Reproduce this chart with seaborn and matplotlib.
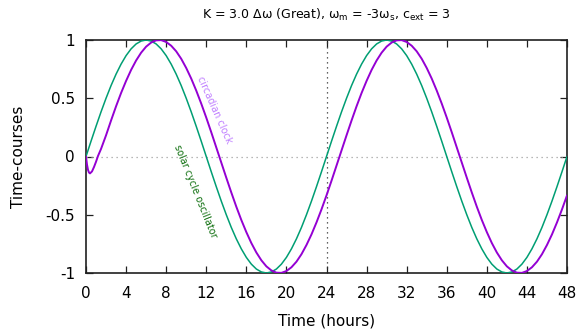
import numpy as np
import pandas as pd
import matplotlib
matplotlib.use("Agg")
import matplotlib.pyplot as plt
import seaborn as sns

# ---- data ----
solar_hours = np.arange(0, 48.01, 0.5)
solar_values = [
    0.000, 0.131, 0.259, 0.383, 0.500, 0.609, 0.707, 0.793, 0.866, 0.924, 0.966, 0.991, 1.000,
    0.991, 0.966, 0.924, 0.866, 0.793, 0.707, 0.609, 0.500, 0.383, 0.259, 0.131, 0.000,
    -0.131, -0.259, -0.383, -0.500, -0.609, -0.707, -0.793, -0.866, -0.924, -0.966, -0.991, -1.000,
    -0.991, -0.966, -0.924, -0.866, -0.793, -0.707, -0.609, -0.500, -0.383, -0.259, -0.131, 0.000,
    0.131, 0.259, 0.383, 0.500, 0.609, 0.707, 0.793, 0.866, 0.924, 0.966, 0.991, 1.000,
    0.991, 0.966, 0.924, 0.866, 0.793, 0.707, 0.609, 0.500, 0.383, 0.259, 0.131, 0.000,
    -0.131, -0.259, -0.383, -0.500, -0.609, -0.707, -0.793, -0.866, -0.924, -0.966, -0.991, -1.000,
    -0.991, -0.966, -0.924, -0.866, -0.793, -0.707, -0.609, -0.500, -0.383, -0.259, -0.131, 0.000,
]

clock_hours = np.concatenate([[0, 0.1, 0.2, 0.3, 0.4, 0.6, 0.8, 1.0, 1.2],
                              np.arange(1.5, 48.01, 0.5)])
clock_values = [
    0.000, -0.070, -0.115, -0.138, -0.145, -0.128, -0.090, -0.045, 0.005,
    0.065, 0.182, 0.309, 0.431, 0.545, 0.649, 0.743, 0.824, 0.891, 0.943, 0.978, 0.997,
    0.999, 0.983, 0.951, 0.903, 0.839, 0.760, 0.669, 0.566, 0.454, 0.334, 0.208, 0.078,
    -0.052, -0.182, -0.309, -0.431, -0.545, -0.649, -0.743, -0.824, -0.891, -0.943, -0.978, -0.997,
    -0.999, -0.983, -0.951, -0.903, -0.839, -0.760, -0.669, -0.566, -0.454, -0.334, -0.208, -0.078,
    0.052, 0.182, 0.309, 0.431, 0.545, 0.649, 0.743, 0.824, 0.891, 0.943, 0.978, 0.997,
    0.999, 0.983, 0.951, 0.903, 0.839, 0.760, 0.669, 0.566, 0.454, 0.334, 0.208, 0.078,
    -0.052, -0.182, -0.309, -0.431, -0.545, -0.649, -0.743, -0.824, -0.891, -0.943, -0.978, -0.997,
    -0.999, -0.983, -0.951, -0.903, -0.839, -0.760, -0.669, -0.566, -0.454, -0.334,
]

x_ticks = [0, 4, 8, 12, 16, 20, 24, 28, 32, 36, 40, 44, 48]
y_ticks = [-1, -0.5, 0, 0.5, 1]
y_tick_labels = ["-1", "-0.5", "0", "0.5", "1"]

title = r"K = 3.0 Δω (Great), ω$_\mathrm{m}$ = -3ω$_\mathrm{s}$, c$_\mathrm{ext}$ = 3"

# ---- style ----
sns.set_theme(style="ticks")
plt.rcParams["font.family"] = ["DejaVu Sans"]
plt.rcParams["mathtext.fontset"] = "dejavusans"
plt.rcParams["text.color"] = "#000000"
plt.rcParams["axes.labelcolor"] = "#000000"

solar_df = pd.DataFrame({"hours": solar_hours, "value": solar_values})
clock_df = pd.DataFrame({"hours": clock_hours, "value": clock_values})

fig = plt.figure(figsize=(5.79, 3.36), dpi=100)
ax = fig.add_axes([86 / 579, 1 - 273 / 336, (567 - 86) / 579, (273 - 40) / 336])

# reference lines
ax.axhline(0, color="#a0a0a0", lw=0.9, ls=(0, (1, 3)), zorder=1)
ax.axvline(24, color="#303030", lw=0.9, ls=(0, (1, 3)), zorder=1)

sns.lineplot(data=solar_df, x="hours", y="value", ax=ax, color="#009e73",
             lw=1.1, zorder=3, legend=False)
sns.lineplot(data=clock_df, x="hours", y="value", ax=ax, color="#9400d3",
             lw=1.4, zorder=4, legend=False)

ax.set_xlim(0, 48)
ax.set_ylim(-1, 1)
ax.set_xticks(x_ticks)
ax.set_xticklabels([str(v) for v in x_ticks])
ax.set_yticks(y_ticks)
ax.set_yticklabels(y_tick_labels)
ax.tick_params(axis="both", which="both", direction="in", length=5, width=0.9,
               top=True, right=True, labelsize=11, color="#202020",
               labelcolor="#000000")
ax.tick_params(axis="x", pad=9)
ax.tick_params(axis="y", pad=8)
for s in ax.spines.values():
    s.set_color("#202020")
    s.set_linewidth(1.2)

ax.set_xlabel("Time (hours)", fontsize=11, labelpad=9, color="#000000")
ax.set_ylabel("Time-courses", fontsize=11, labelpad=14, color="#000000")
ax.set_title(title, fontsize=9, pad=15, color="#000000")

ax.text(12.8, 0.40, "circadian clock", color="#c080ff", fontsize=7,
        rotation=-66, ha="center", va="center", rotation_mode="anchor")
ax.text(10.9, -0.30, "solar cycle oscillator", color="#107010", fontsize=7,
        rotation=-68, ha="center", va="center", rotation_mode="anchor")

fig.savefig("out.png", dpi=100)
